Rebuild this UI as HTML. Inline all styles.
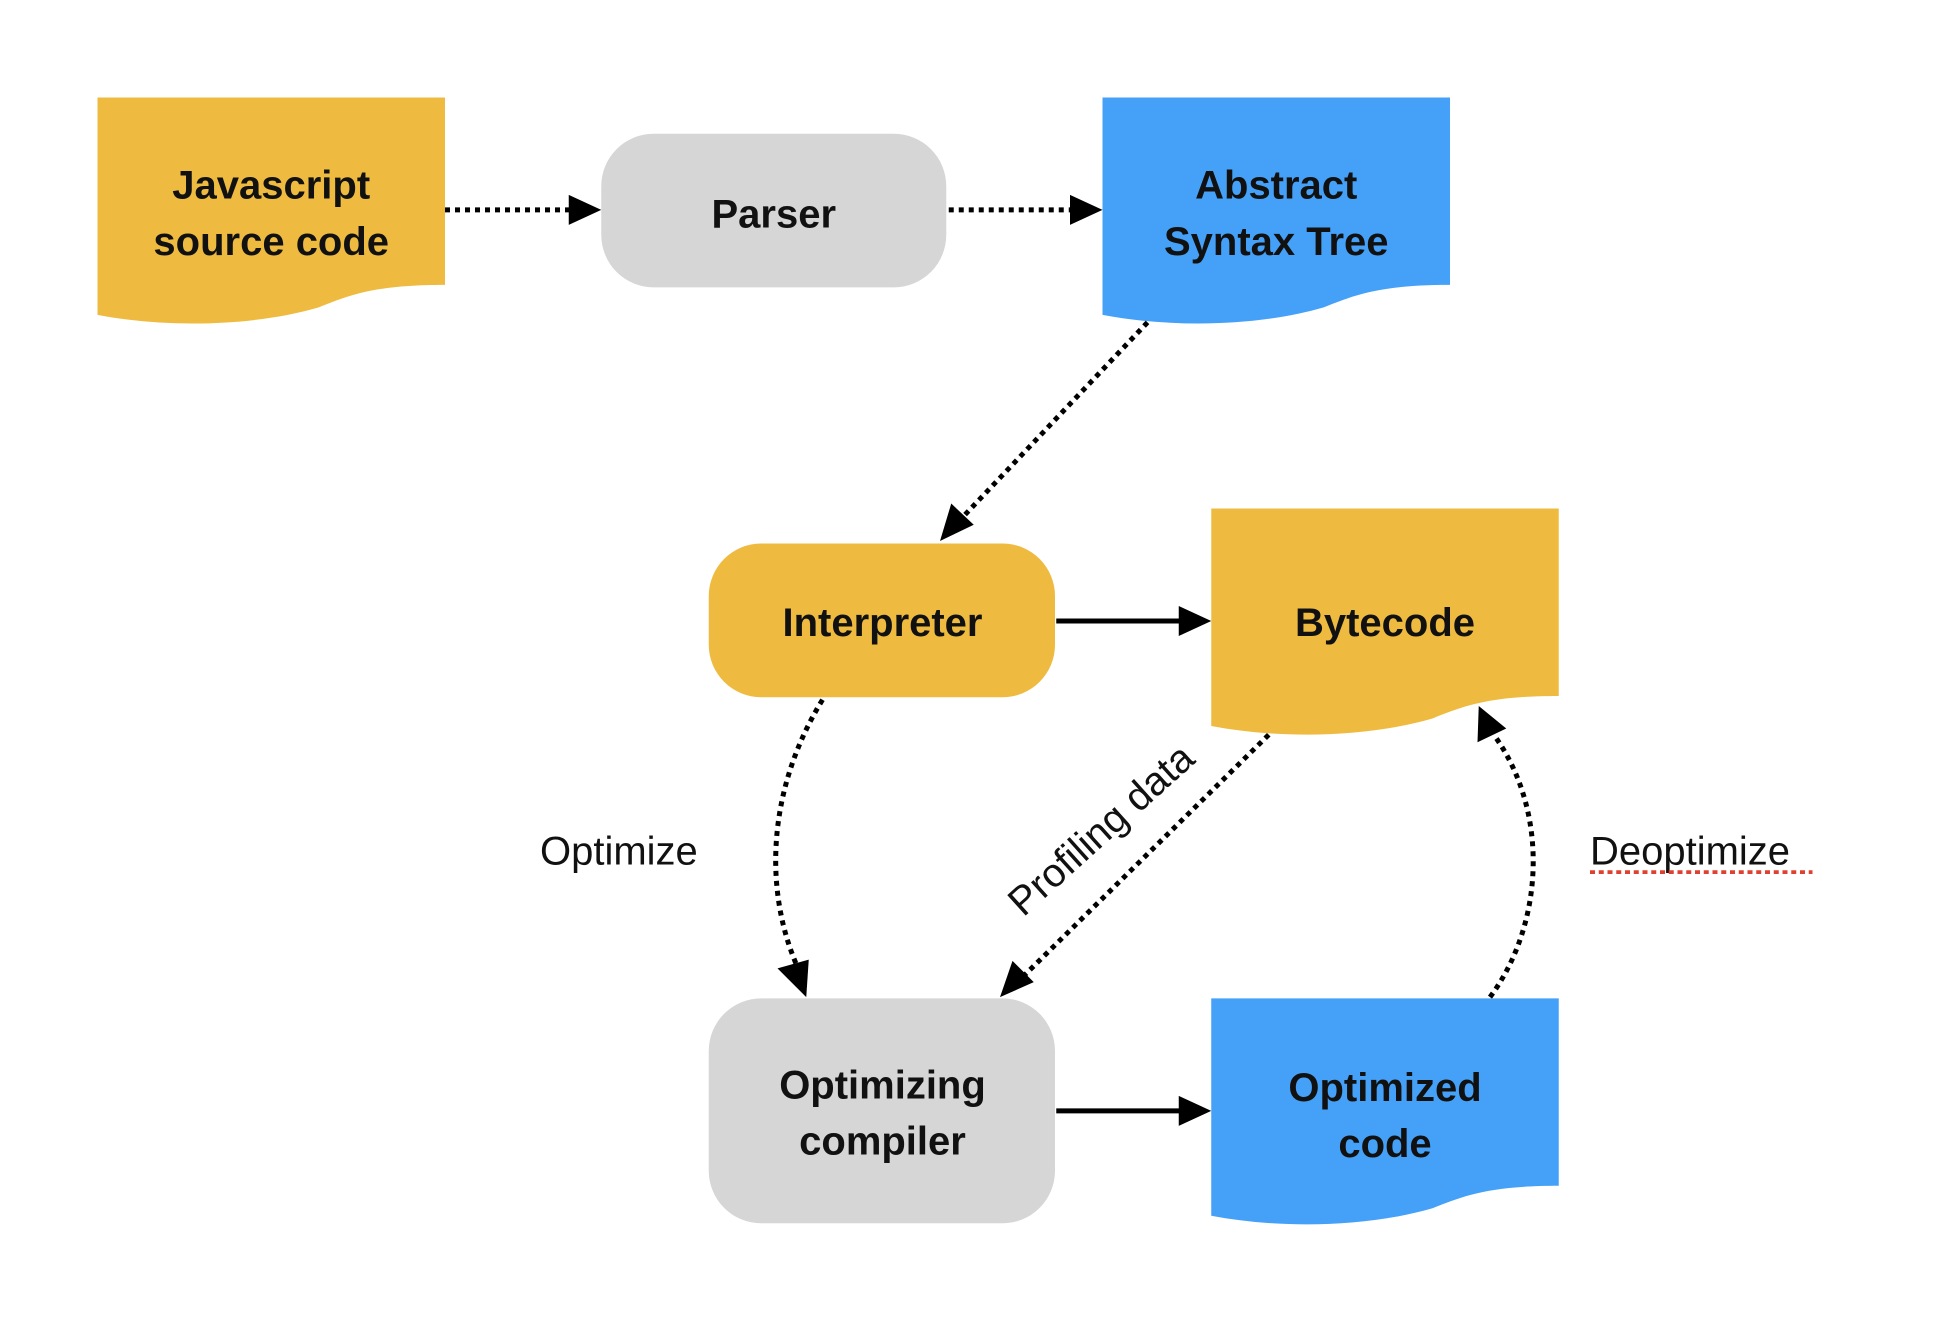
<!DOCTYPE html>
<html><head><style>
html,body{margin:0;padding:0;background:#fff;}
svg{display:block;}
text{font-family:"Liberation Sans",sans-serif;fill:#111;}
.b{font-size:32px;font-weight:bold;}
.r{font-size:32px;}
</style></head><body>
<svg width="1950" height="1342" viewBox="0 0 1560 1074" preserveAspectRatio="none" xmlns="http://www.w3.org/2000/svg">
<defs>
<marker id="a" markerWidth="8" markerHeight="8" refX="7" refY="4" orient="auto" markerUnits="userSpaceOnUse" viewBox="0 0 8 8">
</marker>
</defs>
<!-- shapes -->
<path d="M78 78 H356 V228 C300 228 280 236 255 246 C200 262 130 262 78 252 Z" fill="#eebb40"/>
<rect x="481" y="107" width="276" height="123" rx="42" fill="#d6d6d6"/>
<path d="M882 78 H1160 V228 C1104 228 1084 236 1059 246 C1004 262 934 262 882 252 Z" fill="#45a1f7"/>
<rect x="567" y="435" width="277" height="123" rx="42" fill="#eebb40"/>
<path d="M969 407 H1247 V557 C1191 557 1171 565 1146 575 C1091 591 1021 591 969 581 Z" fill="#eebb40"/>
<rect x="567" y="799" width="277" height="180" rx="42" fill="#d6d6d6"/>
<path d="M969 799 H1247 V949 C1191 949 1171 957 1146 967 C1091 983 1021 983 969 973 Z" fill="#45a1f7"/>
<!-- labels -->
<text class="b" x="217" y="159" text-anchor="middle">Javascript</text>
<text class="b" x="217" y="204" text-anchor="middle">source code</text>
<text class="b" x="619" y="182" text-anchor="middle">Parser</text>
<text class="b" x="1021" y="159" text-anchor="middle">Abstract</text>
<text class="b" x="1021" y="204" text-anchor="middle">Syntax Tree</text>
<text class="b" x="706" y="509" text-anchor="middle">Interpreter</text>
<text class="b" x="1108" y="509" text-anchor="middle">Bytecode</text>
<text class="b" x="706" y="879" text-anchor="middle">Optimizing</text>
<text class="b" x="706" y="924" text-anchor="middle">compiler</text>
<text class="b" x="1108" y="881" text-anchor="middle">Optimized</text>
<text class="b" x="1108" y="926" text-anchor="middle">code</text>
<text class="r" x="432" y="692">Optimize</text>
<text class="r" x="1272" y="692">Deoptimize</text>
<line x1="1272" y1="698" x2="1450" y2="698" stroke="#e04030" stroke-width="3" stroke-dasharray="4 3"/>
<text class="r" x="0" y="0" text-anchor="middle" transform="translate(888,672) rotate(-42)">Profiling data</text>
<!-- connectors -->
<g fill="none" stroke="#000" stroke-width="4">
<line x1="356" y1="168" x2="458" y2="168" stroke-dasharray="4 4"/>
<line x1="759" y1="168" x2="858" y2="168" stroke-dasharray="4 4"/>
<line x1="918" y1="258" x2="770" y2="414" stroke-dasharray="4 4"/>
<line x1="845" y1="497" x2="945" y2="497"/>
<line x1="845" y1="889" x2="945" y2="889"/>
<path d="M658 560 C615 630 610 710 638 774" stroke-dasharray="4 4"/>
<line x1="1015" y1="588" x2="818" y2="782" stroke-dasharray="4 4"/>
<path d="M1192 798 C1235 740 1240 650 1195 588" stroke-dasharray="4 4"/>
</g>
<g fill="#000">
<polygon points="481,168 455,156 455,180"/>
<polygon points="882,168 856,156 856,180"/>
<polygon points="752,433 761,403 779,420"/>
<polygon points="969,497 943,485 943,509"/>
<polygon points="969,889 943,877 943,901"/>
<polygon points="645,798 622,775 647,768"/>
<polygon points="800,798 810,769 827,786"/>
<polygon points="1183,565 1182,594 1205,583"/>
</g>
</svg>
</body></html>
